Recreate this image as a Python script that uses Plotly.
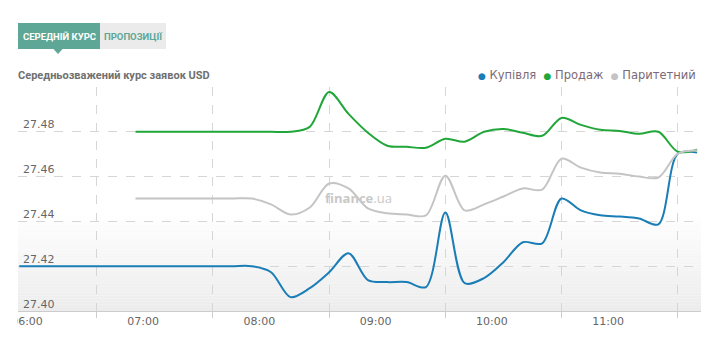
import plotly.graph_objects as go

# ---------------- data ----------------
# sample times (hours, every 10 minutes at :x6)
times_buy = [5 + 56/60 + i*10/60 for i in range(36)]          # 05:56 .. 11:46
times_sell = [6 + 56/60 + i*10/60 for i in range(30)]         # 06:56 .. 11:46

buy = [27.42, 27.42, 27.42, 27.42, 27.42, 27.42,               # 05:56-06:46
       27.42, 27.42, 27.42, 27.42, 27.42, 27.42,               # 06:56-07:46
       27.42, 27.4173, 27.4062, 27.4102, 27.4173, 27.4258,     # 07:56-08:46
       27.4138, 27.4129, 27.4129, 27.4107, 27.4440, 27.4124,   # 08:56-09:46
       27.4147, 27.4218, 27.4307, 27.4302, 27.4502, 27.4449,   # 09:56-10:46
       27.4427, 27.4422, 27.4413, 27.4387, 27.4702, 27.4707]   # 10:56-11:46

sell = [27.48, 27.48, 27.48, 27.48, 27.48, 27.48,              # 06:56-07:46
        27.48, 27.48, 27.48, 27.4822, 27.4978, 27.4880,        # 07:56-08:46
        27.4796, 27.4738, 27.4733, 27.4729, 27.4769, 27.4756,  # 08:56-09:46
        27.4800, 27.4813, 27.4796, 27.4782, 27.4862, 27.4831,  # 09:56-10:46
        27.4809, 27.4804, 27.4791, 27.4800, 27.4711, 27.4720]  # 10:56-11:46

parity = [27.4502, 27.4502, 27.4502, 27.4502, 27.4502, 27.4502,  # 06:56-07:46
          27.4502, 27.4476, 27.4431, 27.4462, 27.4569, 27.4547,  # 07:56-08:46
          27.4458, 27.4436, 27.4431, 27.4427, 27.4604, 27.4449,  # 08:56-09:46
          27.4476, 27.4511, 27.4547, 27.4542, 27.4680, 27.4640,  # 09:56-10:46
          27.4618, 27.4613, 27.4600, 27.4596, 27.4702, 27.4716]  # 10:56-11:46

hour_ticks = [6, 7, 8, 9, 10, 11]
hour_labels = ["06:00", "07:00", "08:00", "09:00", "10:00", "11:00"]
grid_ticks = [6.6, 7.6, 8.6, 9.6, 10.6, 11.6]
y_ticks = [27.40, 27.42, 27.44, 27.46, 27.48, 27.50]
y_labels = ["27.40", "27.42", "27.44", "27.46", "27.48", ""]

series_names = ["Купівля", "Продаж", "Паритетний"]
series_colors = ["#1a7db6", "#21a63a", "#c4c4c4"]

title_text = "Середньозважений курс заявок USD"
tab_active = "СЕРЕДНІЙ КУРС"
tab_other = "ПРОПОЗИЦІЇ"

# ---------------- layout helpers ----------------
W, H = 720, 356
PL, PR, PT, PB = 18, 701, 87, 311


def px(xp):
    return (xp - PL) / (PR - PL)


def py(yp):
    return (PB - yp) / (PB - PT)


COND = "Roboto, Liberation Sans, sans-serif"
BODY = "DejaVu Sans, Verdana, sans-serif"

fig = go.Figure()

for xs, ys, name, color in [(times_buy, buy, series_names[0], series_colors[0]),
                            (times_sell, sell, series_names[1], series_colors[1]),
                            (times_sell, parity, series_names[2], series_colors[2])]:
    fig.add_trace(go.Scatter(x=xs, y=ys, mode="lines", name=name,
                             line=dict(color=color, width=2, shape="spline", smoothing=0.9),
                             showlegend=False, hoverinfo="skip"))

shapes = []
# gradient background in lower part of plot
N = 32
g_top, g_bot = 212, PB
for i in range(N):
    y0 = g_top + (g_bot - g_top) * i / N
    y1 = g_top + (g_bot - g_top) * (i + 1) / N
    v = int(round(255 - (255 - 236) * (i + 0.5) / N))
    shapes.append(dict(type="rect", xref="paper", yref="paper", x0=0, x1=1,
                       y0=py(y1), y1=py(y0), line=dict(width=0),
                       fillcolor=f"rgb({v},{v},{v})", layer="below"))

# cover for the clipped first x label
shapes.append(dict(type="rect", xref="paper", yref="paper", x0=px(-5), x1=px(PL - 0.5),
                   y0=py(340), y1=py(313), line=dict(width=0), fillcolor="white", layer="above"))

# tabs
TEAL = "#5ea796"
shapes.append(dict(type="rect", xref="paper", yref="paper", x0=px(18), x1=px(100),
                   y0=py(49), y1=py(23), line=dict(width=0), fillcolor=TEAL))
shapes.append(dict(type="rect", xref="paper", yref="paper", x0=px(100), x1=px(166),
                   y0=py(49), y1=py(23), line=dict(width=0), fillcolor="#ebebeb"))
shapes.append(dict(type="path", xref="paper", yref="paper",
                   path=f"M {px(53)} {py(48.5)} L {px(63)} {py(48.5)} L {px(58)} {py(54)} Z",
                   line=dict(width=0), fillcolor=TEAL))

annotations = [
    dict(text=f"<b>{tab_active}</b>", x=px(59.5), y=py(36.5), xref="paper", yref="paper",
         showarrow=False, font=dict(family=COND, size=9.5, color="white"),
         xanchor="center", yanchor="middle"),
    dict(text=f"<b>{tab_other}</b>", x=px(133), y=py(36.5), xref="paper", yref="paper",
         showarrow=False, font=dict(family=COND, size=9.5, color=TEAL),
         xanchor="center", yanchor="middle"),
    dict(text=f"<b>{title_text}</b>", x=px(16), y=py(75), xref="paper", yref="paper",
         showarrow=False, font=dict(family=COND, size=11, color="#707070"),
         xanchor="left", yanchor="middle"),
    dict(text="<b>finance</b>.ua", x=px(358), y=py(198), xref="paper", yref="paper",
         showarrow=False, font=dict(family="Open Sans, DejaVu Sans, sans-serif", size=13, color="#c8c8c8"),
         xanchor="center", yanchor="middle"),
]

# y-axis labels drawn inside the plot, above their grid lines
for v, lab in zip(y_ticks, y_labels):
    if lab:
        annotations.append(dict(text=lab, x=px(21), y=v, xref="paper", yref="y",
                                showarrow=False, xanchor="left", yanchor="middle", yshift=7,
                                font=dict(family=BODY, size=11, color="#666666")))

legend_text = "  ".join(
    f"<span style='color:{c};font-size:9px'>●</span> {n}" for n, c in zip(series_names, series_colors))
annotations.append(dict(text=legend_text, x=px(698), y=py(75), xref="paper", yref="paper",
                        showarrow=False, font=dict(family=BODY, size=11.5, color="#7a6a78"),
                        xanchor="right", yanchor="middle"))

fig.update_layout(
    width=W, height=H,
    margin=dict(l=PL, r=W - PR, t=PT, b=H - PB, pad=0),
    paper_bgcolor="white", plot_bgcolor="white",
    showlegend=False,
    shapes=shapes, annotations=annotations,
    xaxis=dict(range=[5 + 55.35/60, 11.80], tickvals=hour_ticks, ticktext=hour_labels,
               showgrid=False, ticks="", zeroline=False,
               showline=True, linecolor="#cccccc", linewidth=1,
               ticklabeloverflow="allow",
               tickfont=dict(family=BODY, size=11, color="#666666"),
               minor=dict(tickvals=grid_ticks, showgrid=True, gridcolor="#d6d6d6",
                          griddash="dash", gridwidth=1, ticks="outside", ticklen=6,
                          tickcolor="#cccccc", tickwidth=1),
               fixedrange=True),
    yaxis=dict(range=[27.40, 27.50], tickvals=y_ticks, showticklabels=False,
               showgrid=True, gridcolor="#d6d6d6", griddash="dash", gridwidth=1,
               zeroline=False, ticks="", showline=False,
               fixedrange=True),
)

fig.write_html("out.html", config={"displayModeBar": False},
               post_script="document.body.style.margin='0';document.body.style.padding='0';"
                           "document.documentElement.style.overflow='hidden';")
